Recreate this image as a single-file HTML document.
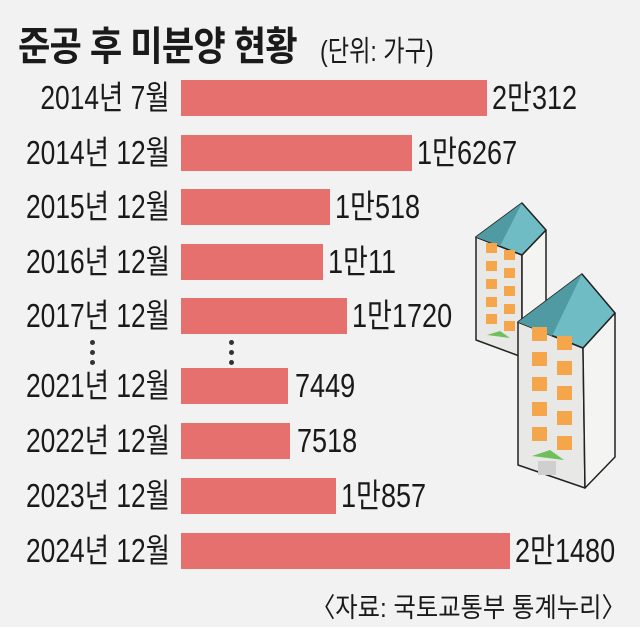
<!DOCTYPE html>
<html><head><meta charset="utf-8"><style>
body{margin:0;background:#f2f2f2;}
.w{position:relative;width:640px;height:627px;overflow:hidden;background:#f2f2f2;font-family:"Liberation Sans","Noto Sans CJK KR",sans-serif;color:#1a1a1a;}
.t{position:absolute;left:18px;top:14px;font-size:40px;font-weight:bold;letter-spacing:-1px;transform:scaleX(.88);transform-origin:left;white-space:nowrap;}
.u{position:absolute;left:320px;top:28px;font-size:29px;transform:scaleX(.8);transform-origin:left;white-space:nowrap;}
.l{position:absolute;right:470px;font-size:33px;transform:scaleX(.8);transform-origin:right;white-space:nowrap;line-height:36px;}
.b{position:absolute;left:181px;height:36px;background:#e5706d;}
.v{position:absolute;font-size:33px;transform:scaleX(.82);transform-origin:left;white-space:nowrap;line-height:36px;}
.s{position:absolute;right:14px;top:586px;font-size:27px;transform:scaleX(.9);transform-origin:right;white-space:nowrap;}
.d{position:absolute;width:5px;height:5px;border-radius:50%;background:#333;}
</style></head><body><div class="w">
<div class="t">준공 후 미분양 현황</div>
<div class="u">(단위: 가구)</div>

<div class="l" style="top:80px">2014년 7월</div><div class="b" style="top:80px;width:306px"></div><div class="v" style="top:80px;left:492px">2만312</div>
<div class="l" style="top:135px">2014년 12월</div><div class="b" style="top:135px;width:231px"></div><div class="v" style="top:135px;left:417px">1만6267</div>
<div class="l" style="top:189px">2015년 12월</div><div class="b" style="top:189px;width:149px"></div><div class="v" style="top:189px;left:335px">1만518</div>
<div class="l" style="top:244px">2016년 12월</div><div class="b" style="top:244px;width:142px"></div><div class="v" style="top:244px;left:328px">1만11</div>
<div class="l" style="top:298px">2017년 12월</div><div class="b" style="top:298px;width:166px"></div><div class="v" style="top:298px;left:352px">1만1720</div>
<div class="d" style="left:90px;top:340px"></div><div class="d" style="left:90px;top:350px"></div><div class="d" style="left:90px;top:360px"></div>
<div class="d" style="left:229px;top:340px"></div><div class="d" style="left:229px;top:350px"></div><div class="d" style="left:229px;top:360px"></div>
<div class="l" style="top:368px">2021년 12월</div><div class="b" style="top:368px;width:107px"></div><div class="v" style="top:368px;left:295px">7449</div>
<div class="l" style="top:423px">2022년 12월</div><div class="b" style="top:423px;width:109px"></div><div class="v" style="top:423px;left:297px">7518</div>
<div class="l" style="top:478px">2023년 12월</div><div class="b" style="top:478px;width:155px"></div><div class="v" style="top:478px;left:341px">1만857</div>
<div class="l" style="top:533px">2024년 12월</div><div class="b" style="top:533px;width:329px"></div><div class="v" style="top:533px;left:515px">2만1480</div>
<div class="s">〈자료: 국토교통부 통계누리〉</div>

<svg style="position:absolute;left:0;top:0" width="640" height="627">
<g stroke="#222" stroke-width="1.5" stroke-linejoin="round">
<polygon points="476,237 522,255 522,357 476,340" fill="#e8e8e6"/>
<polygon points="522,255 546,230 546,345 522,357" fill="#f4f4f2"/>
<polygon points="476,237 522,203 546,230 522,255" fill="#6fbcc4"/>
</g>
<polygon points="476,237 522,203 500,246" fill="#4f9aa3"/>
<g fill="#f5a64a">
<rect x="486" y="243" width="11" height="10"/><rect x="504" y="250" width="11" height="10"/>
<rect x="486" y="261" width="11" height="10"/><rect x="504" y="268" width="11" height="10"/>
<rect x="486" y="279" width="11" height="10"/><rect x="504" y="286" width="11" height="10"/>
<rect x="486" y="297" width="11" height="10"/><rect x="504" y="304" width="11" height="10"/>
<rect x="486" y="314" width="11" height="10"/><rect x="504" y="321" width="11" height="10"/>
</g>
<polygon points="487,335 500,331 510,338" fill="#6fbf5a"/>
<g stroke="#222" stroke-width="1.5" stroke-linejoin="round">
<polygon points="518,322 583,348 585,488 518,465" fill="#e8e8e6"/>
<polygon points="583,348 615,313 615,457 585,488" fill="#f4f4f2"/>
<polygon points="518,322 582,274 615,313 583,348" fill="#6fbcc4"/>
</g>
<polygon points="518,322 582,274 552,336" fill="#4f9aa3"/>
<g fill="#f5a64a">
<rect x="532" y="327" width="15" height="14"/><rect x="557" y="336" width="15" height="14"/>
<rect x="532" y="352" width="15" height="14"/><rect x="557" y="361" width="15" height="14"/>
<rect x="532" y="377" width="15" height="14"/><rect x="557" y="386" width="15" height="14"/>
<rect x="532" y="402" width="15" height="14"/><rect x="557" y="411" width="15" height="14"/>
<rect x="532" y="427" width="15" height="14"/><rect x="557" y="436" width="15" height="14"/>
</g>
<polygon points="532,456 550,450 564,460" fill="#6fbf5a"/>
<rect x="538" y="461" width="18" height="14" fill="#cfcfcf"/>
</svg>
</div></body></html>
